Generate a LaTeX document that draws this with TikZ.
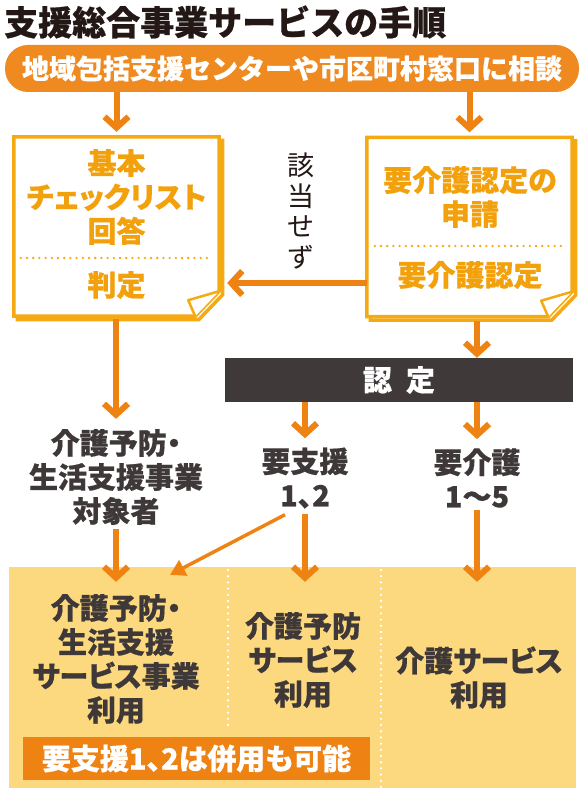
\documentclass[tikz,border=0pt]{standalone}
\usepackage{fontspec}
\newfontfamily\jp{Noto Sans CJK JP}[RawFeature=+palt,BoldFeatures={FakeBold=0.6}]
\newfontfamily\jpw{Noto Sans CJK JP}[BoldFeatures={FakeBold=0.6}]
\usetikzlibrary{arrows.meta,positioning,calc}
\definecolor{ink}{HTML}{3E3838}
\definecolor{headc}{HTML}{231815}
\definecolor{frame}{HTML}{F5A912}
\definecolor{framet}{HTML}{F2A10C}
\definecolor{flowc}{HTML}{EE8213}
\definecolor{pill}{HTML}{EE8A1F}
\definecolor{panel}{HTML}{FCD87E}
\definecolor{bar}{HTML}{3F3939}
\tikzset{
  lbl/.style={align=center,inner sep=0pt,font=\jp\bfseries\fontsize{29}{34}\selectfont,text=ink},
  boxtxt/.style={lbl,text=framet},
  box/.style={minimum width=205pt,minimum height=179pt,inner sep=0pt},
  arrow/.style={-{Straight Barb[length=11pt,width=24pt]},draw=flowc,line width=6pt},
  slant/.style={-{Triangle[length=15pt,width=17pt]},draw=flowc,line width=3.5pt},
  frameline/.style={draw=frame,line width=3.5pt,line join=miter},
  dots/.style={line width=2.6pt,line cap=round,dash pattern=on 0pt off 6.2pt}
}
\begin{document}
\begin{tikzpicture}[x=1pt,y=-1pt]
\useasboundingbox (0,0) rectangle (583,799);
\node[anchor=west,inner sep=0pt,text=headc,font=\jpw\bfseries\fontsize{34}{34}\selectfont] (ttl) at (4,22) {支援総合事業サービスの手順};
\node[fill=pill,rounded corners=23pt,minimum width=574pt,minimum height=47pt,inner sep=0pt,text=white,
  font=\jpw\bfseries\fontsize{27}{27}\selectfont] (ask) at (292,68.5) {地域包括支援センターや市区町村窓口に相談};

% boxes with folded corner
\node[box] (chk) at (116.5,226.5) {};
\node[box] (app) at (469.5,227) {};
\foreach \b in {chk,app}{
  \draw[frameline] ($(\b.north west)+(3.5,3.5)$) -- ($(\b.north east)+(3.5,3.5)$) -- ($(\b.south east)+(3.5,-21.5)$)
    -- ($(\b.south east)+(-20.5,3.5)$) -- ($(\b.south west)+(3.5,3.5)$) -- cycle;
  \draw[frameline,fill=white] (\b.north west) -- (\b.north east) -- ($(\b.south east)+(0,-25)$)
    -- ($(\b.south east)+(-24,0)$) -- (\b.south west) -- cycle;
  \draw[draw=frame,line width=2.5pt,fill=white,line join=round] ($(\b.south east)+(0,-25)$)
    -- ($(\b.south east)+(-31,-16)$) -- ($(\b.south east)+(-24,0)$);
}
\node[boxtxt] (chkq) at (116.5,197) {基本\\チェックリスト\\回答};
\node[boxtxt] (chkr) at (116.5,285) {判定};
\draw[dots,draw=frame] ($(chk.west)+(7,31.5)$) -- ($(chk.east)+(-7,31.5)$);
\node[boxtxt] (appq) at (470,197) {要介護認定の\\申請};
\node[boxtxt] (appr) at (470,275) {要介護認定};
\draw[dots,draw=frame] ($(app.west)+(8,19)$) -- ($(app.east)+(-7,19)$);

\node[align=center,inner sep=0pt,text=headc,font=\jpw\fontsize{27}{30.5}\selectfont] (none) at (301,211) {該\\当\\せ\\ず};
\coordinate (nx) at (0,283);

\node[fill=bar,minimum width=348pt,minimum height=44pt,inner sep=0pt,text=white,
  font=\jpw\bfseries\fontsize{29}{29}\selectfont] (cert) at (399,380) {認\hspace{14pt}定};

\node[lbl] (target) at (116,477) {介護予防・\\生活支援事業\\対象者};
\node[lbl] (support) at (305,478) {要支援\\1、2};
\node[lbl] (care) at (477,478) {要介護\\1〜5};

% bottom panel
\node[fill=panel,minimum width=567pt,minimum height=221pt,inner sep=0pt] (pnl) at (292.5,677.5) {};
\draw[dots,draw=white] (228,570) -- (228,727);
\draw[dots,draw=white] (381,570) -- (381,788);
\node[lbl] (svc1) at (116,659) {介護予防・\\生活支援\\サービス事業\\利用};
\node[lbl] (svc2) at (303,660) {介護予防\\サービス\\利用};
\node[lbl] (svc3) at (479,677.5) {介護サービス\\利用};
\node[fill=flowc,minimum width=347pt,minimum height=43pt,inner sep=0pt,text=white,
  font=\jp\bfseries\fontsize{29}{29}\selectfont] (both) at (196.5,758.5) {要支援1、2は併用も可能};

\draw[arrow] (ask.south -| chk.north) -- ([yshift=5pt]chk.north);
\draw[arrow] (ask.south -| app.north) -- ([yshift=5pt]app.north);
\draw[arrow] (app.west |- nx) -- ([xshift=8pt]chk.east |- nx);
\draw[arrow] ([yshift=-4pt]app.south -| care) -- (cert.north -| care);
\draw[arrow] ([yshift=-3pt]chk.south -| target) -- ([yshift=10pt]target.north);
\draw[arrow] (cert.south -| support) -- ([yshift=9pt]support.north);
\draw[arrow] (cert.south -| care) -- ([yshift=9pt]care.north);
\draw[arrow] ([yshift=-4pt]target.south) -- ($(pnl.north -| target)+(0,15)$);
\draw[arrow] ([yshift=-5pt]support.south) -- ($(pnl.north -| support)+(0,15)$);
\draw[arrow] ([yshift=-2pt]care.south) -- ($(pnl.north -| care)+(0,15)$);
\draw[slant] ($(support.south)+(-20,6)$) -- ($(pnl.north -| target)+(54,8)$);
\end{tikzpicture}
\end{document}
